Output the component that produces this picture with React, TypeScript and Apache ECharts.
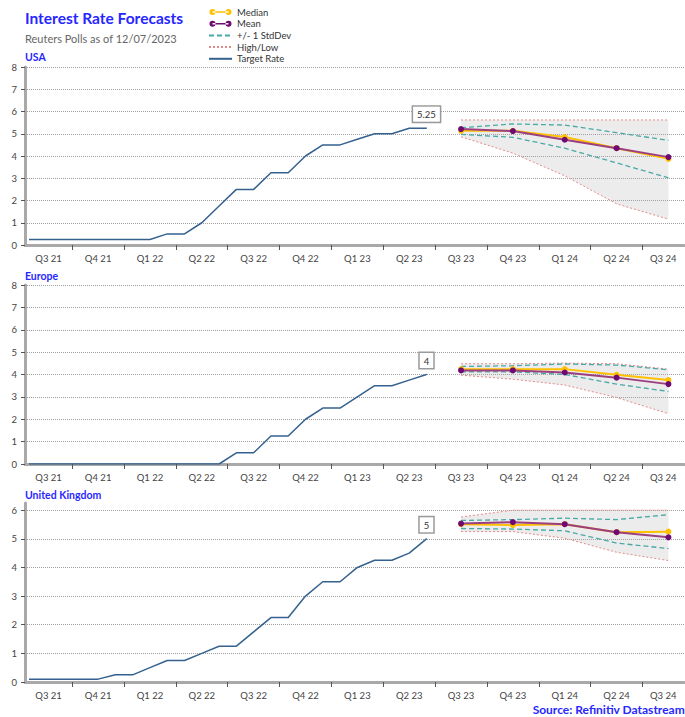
import React, { useEffect, useRef } from "react";
import * as echarts from "echarts";

// ---------- data ----------
const quarterLabels = [
  "Q3 21", "Q4 21", "Q1 22", "Q2 22", "Q3 22", "Q4 22", "Q1 23",
  "Q2 23", "Q3 23", "Q4 23", "Q1 24", "Q2 24", "Q3 24",
];

// monthly target rates, Jul 21 .. Jun 23
const monthLabels = [
  "Jul 21", "Aug 21", "Sep 21", "Oct 21", "Nov 21", "Dec 21",
  "Jan 22", "Feb 22", "Mar 22", "Apr 22", "May 22", "Jun 22",
  "Jul 22", "Aug 22", "Sep 22", "Oct 22", "Nov 22", "Dec 22",
  "Jan 23", "Feb 23", "Mar 23", "Apr 23", "May 23", "Jun 23",
];
const usaTarget = [
  0.25, 0.25, 0.25, 0.25, 0.25, 0.25, 0.25, 0.25, 0.5, 0.5, 1.0, 1.75,
  2.5, 2.5, 3.25, 3.25, 4.0, 4.5, 4.5, 4.75, 5.0, 5.0, 5.25, 5.25,
];
const europeTarget = [
  0, 0, 0, 0, 0, 0, 0, 0, 0, 0, 0, 0,
  0.5, 0.5, 1.25, 1.25, 2.0, 2.5, 2.5, 3.0, 3.5, 3.5, 3.75, 4.0,
];
const ukTarget = [
  0.1, 0.1, 0.1, 0.1, 0.1, 0.25, 0.25, 0.5, 0.75, 0.75, 1.0, 1.25,
  1.25, 1.75, 2.25, 2.25, 3.0, 3.5, 3.5, 4.0, 4.25, 4.25, 4.5, 5.0,
];

// forecasts, Q3 23 .. Q3 24
const forecastQuarters = ["Q3 23", "Q4 23", "Q1 24", "Q2 24", "Q3 24"];
const usaMedian = [5.13, 5.13, 4.85, 4.35, 3.87];
const usaMean = [5.21, 5.12, 4.73, 4.35, 3.95];
const usaStdUp = [5.27, 5.44, 5.39, 5.05, 4.7];
const usaStdDown = [4.97, 4.84, 4.35, 3.69, 3.02];
const usaHigh = [5.62, 5.62, 5.62, 5.62, 5.62];
const usaLow = [4.86, 4.13, 3.11, 1.85, 1.16];

const europeMedian = [4.24, 4.24, 4.24, 3.99, 3.75];
const europeMean = [4.18, 4.18, 4.09, 3.86, 3.57];
const europeStdUp = [4.36, 4.39, 4.47, 4.42, 4.21];
const europeStdDown = [4.12, 4.12, 4.0, 3.57, 3.24];
const europeHigh = [4.48, 4.48, 4.51, 4.48, 4.24];
const europeLow = [3.97, 3.79, 3.53, 2.97, 2.25];

const ukMedian = [5.51, 5.48, 5.51, 5.23, 5.25];
const ukMean = [5.53, 5.58, 5.51, 5.23, 5.05];
const ukStdUp = [5.64, 5.67, 5.72, 5.67, 5.84];
const ukStdDown = [5.36, 5.34, 5.28, 4.85, 4.66];
const ukHigh = [5.76, 6.0, 6.0, 6.0, 6.0];
const ukLow = [5.25, 5.25, 5.02, 4.53, 4.24];

const usaYTicks = [0, 1, 2, 3, 4, 5, 6, 7, 8];
const europeYTicks = [0, 1, 2, 3, 4, 5, 6, 7, 8];
const ukYTicks = [0, 1, 2, 3, 4, 5, 6];

const regionNames = ["USA", "Europe", "United Kingdom"];
const legendNames = ["Median", "Mean", "+/- 1 StdDev", "High/Low", "Target Rate"];

// ---------- layout / styles ----------
const FONT = "Lato, 'Open Sans', sans-serif";
const BLUE = "#2727ff";
const X_MIN = 0.27; // axis in months since 1 Jul 2021
const X_MAX = 38.4;
const gridTops = [67, 285, 503];
const gridHeights = [178, 179, 179];
const yMaxes = [8, 8, 6.25];
const regionTitleTops = [51, 270, 489];

const C_TARGET = "#35618f";
const C_MEDIAN = "#ffc000";
const C_MEAN_LINE = "#9c3f80";
const C_MEAN_DOT = "#6e0a72";
const C_STD = "#4aa9a6";
const C_HL = "#e58a8a";
const C_BAND = "#ececec";

const DOTS_ICON =
  "path://M0,3a3,3 0 1,0 6,0a3,3 0 1,0 -6,0Z M3,2.3H19V3.7H3Z M16,3a3,3 0 1,0 6,0a3,3 0 1,0 -6,0Z";

function App() {
  const ref = useRef<HTMLDivElement>(null);

  useEffect(() => {
    if (!ref.current) return;
    const chart = echarts.init(ref.current, undefined, { renderer: "svg" });

    const monthPos = (i: number) => i + 0.5;
    const quarterPos = (q: string) => quarterLabels.indexOf(q) * 3 + 1.5;

    const xTickVals = quarterLabels
      .map((_, i) => i * 3)
      .filter((v) => v > X_MIN && v < X_MAX);
    const xLabelVals = quarterLabels.map(
      (_, i) => (Math.max(i * 3, X_MIN) + Math.min(i * 3 + 3, X_MAX)) / 2
    );
    const xFormatter = (v: number) => {
      let best = 0;
      xLabelVals.forEach((p, i) => {
        if (Math.abs(p - v) < Math.abs(xLabelVals[best] - v)) best = i;
      });
      return quarterLabels[best];
    };

    const regions = [
      { target: usaTarget, median: usaMedian, mean: usaMean, up: usaStdUp, dn: usaStdDown, high: usaHigh, low: usaLow, yTicks: usaYTicks },
      { target: europeTarget, median: europeMedian, mean: europeMean, up: europeStdUp, dn: europeStdDown, high: europeHigh, low: europeLow, yTicks: europeYTicks },
      { target: ukTarget, median: ukMedian, mean: ukMean, up: ukStdUp, dn: ukStdDown, high: ukHigh, low: ukLow, yTicks: ukYTicks },
    ];

    const grid: any[] = [];
    const xAxis: any[] = [];
    const yAxis: any[] = [];
    const series: any[] = [];

    regions.forEach((r, gi) => {
      grid.push({ left: 25, right: 1, top: gridTops[gi], height: gridHeights[gi] });
      xAxis.push({
        type: "value",
        gridIndex: gi,
        min: X_MIN,
        max: X_MAX,
        axisLine: { show: true, onZero: false, lineStyle: { color: "#a9a9a9", width: 3 } },
        axisTick: { show: true, customValues: xTickVals, length: 5, lineStyle: { color: "#555", width: 1 } },
        axisLabel: {
          show: true,
          customValues: xLabelVals,
          formatter: xFormatter,
          fontSize: 9.5,
          color: "#444",
          margin: 8,
          fontFamily: FONT,
        },
        splitLine: { show: false },
      });
      yAxis.push({
        type: "value",
        gridIndex: gi,
        min: 0,
        max: yMaxes[gi],
        axisLine: { show: true, lineStyle: { color: "#a9a9a9", width: 3 } },
        axisTick: { show: true, customValues: r.yTicks, length: 4, lineStyle: { color: "#555", width: 1 } },
        axisLabel: { customValues: r.yTicks, fontSize: 9.5, color: "#444", margin: 8, fontFamily: FONT },
        splitLine: { show: true, lineStyle: { type: "dotted", color: "#a0a0a0", width: 1 } },
      });

      const fq = (arr: number[]) => arr.map((v, i) => [quarterPos(forecastQuarters[i]), v]);
      const common = { xAxisIndex: gi, yAxisIndex: gi, animation: false };

      // grey band between low and high
      series.push({
        ...common,
        type: "custom",
        name: "band-" + gi,
        silent: true,
        z: -1,
        data: r.high.map((h, i) => [quarterPos(forecastQuarters[i]), r.low[i], h]),
        encode: { x: 0, y: [1, 2] },
        renderItem: (params: any, api: any) => {
          if (params.dataIndex !== 0) return null;
          const top = r.high.map((h, i) => api.coord([quarterPos(forecastQuarters[i]), h]));
          const bottom = r.low
            .map((l, i) => api.coord([quarterPos(forecastQuarters[i]), l]))
            .reverse();
          return {
            type: "polygon",
            shape: { points: top.concat(bottom) },
            style: { fill: C_BAND },
          };
        },
      });
      // high / low
      [r.high, r.low].forEach((arr) =>
        series.push({
          ...common,
          type: "line",
          name: "High/Low",
          data: fq(arr),
          symbol: "none",
          color: C_HL,
          lineStyle: { color: C_HL, width: 1, type: [2, 2] },
          z: 2,
        })
      );
      // std dev
      [r.up, r.dn].forEach((arr) =>
        series.push({
          ...common,
          type: "line",
          name: "+/- 1 StdDev",
          data: fq(arr),
          symbol: "none",
          color: C_STD,
          lineStyle: { color: C_STD, width: 1.3, type: [5, 3] },
          z: 3,
        })
      );
      // target rate
      const tData: any[] = r.target.map((v, i) => [monthPos(i), v]);
      const last = tData.length - 1;
      tData[last] = {
        value: tData[last],
        symbol: "circle",
        symbolSize: 1,
        itemStyle: { color: C_TARGET },
        label: {
          show: true,
          position: "top",
          distance: 6,
          formatter: (p: any) => String(p.value[1]),
          backgroundColor: "#fff",
          borderColor: "#9a9a9a",
          borderWidth: 1.5,
          padding: [3, 4, 2, 4],
          fontSize: 9.5,
          color: "#333",
          fontFamily: FONT,
        },
      };
      series.push({
        ...common,
        type: "line",
        name: "Target Rate",
        data: tData,
        symbol: "none",
        color: C_TARGET,
        lineStyle: { color: C_TARGET, width: 1.5 },
        z: 4,
      });
      // median
      series.push({
        ...common,
        type: "line",
        name: "Median",
        data: fq(r.median),
        symbol: "circle",
        symbolSize: 6,
        color: C_MEDIAN,
        itemStyle: { color: C_MEDIAN },
        lineStyle: { color: C_MEDIAN, width: 2 },
        z: 5,
      });
      // mean
      series.push({
        ...common,
        type: "line",
        name: "Mean",
        data: fq(r.mean),
        symbol: "circle",
        symbolSize: 6,
        color: C_MEAN_DOT,
        itemStyle: { color: C_MEAN_DOT },
        lineStyle: { color: C_MEAN_LINE, width: 2 },
        z: 6,
      });
    });

    const titles: any[] = [
      {
        text: "Interest Rate Forecasts",
        left: 25,
        top: 10,
        padding: 0,
        textStyle: { fontSize: 15.5, fontWeight: "bold", color: BLUE, fontFamily: FONT },
      },
      {
        text: "Reuters Polls as of 12/07/2023",
        left: 25,
        top: 33,
        padding: 0,
        textStyle: { fontSize: 11, fontWeight: "normal", color: "#666", fontFamily: FONT },
      },
      ...regionNames.map((n, i) => ({
        text: n,
        left: 25,
        top: regionTitleTops[i],
        padding: 0,
        textStyle: { fontSize: 10.5, fontWeight: "bold", color: BLUE, fontFamily: FONT },
      })),
      {
        text: "Source: Refinitiv Datastream",
        right: 0,
        top: 702,
        padding: 0,
        textStyle: { fontSize: 12, fontWeight: "bold", color: BLUE, fontFamily: FONT, lineHeight: 14 },
      },
    ];

    const legendData = legendNames.map((n, i) => {
      if (i === 0 || i === 1) return { name: n, icon: DOTS_ICON };
      return { name: n, itemStyle: { opacity: 0 } };
    });

    chart.setOption({
      animation: false,
      textStyle: { fontFamily: FONT },
      title: titles,
      legend: {
        orient: "vertical",
        left: 208,
        top: 7,
        padding: 0,
        itemWidth: 23,
        itemHeight: 6,
        itemGap: 1.7,
        selectedMode: false,
        data: legendData,
        textStyle: { fontSize: 9.5, color: "#333", lineHeight: 9, fontFamily: FONT },
      },
      grid,
      xAxis,
      yAxis,
      series,
    });

    return () => chart.dispose();
  }, []);

  return (
    <div
      ref={ref}
      style={{ position: "fixed", left: 0, top: 0, width: 685, height: 717, background: "#fff" }}
    />
  );
}

export default App;
